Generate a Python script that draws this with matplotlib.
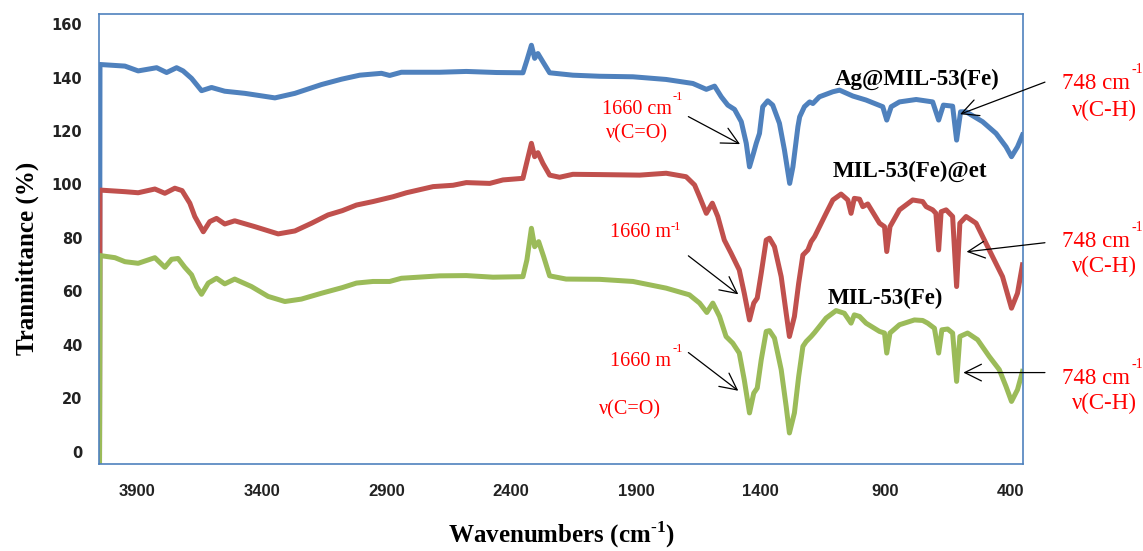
import matplotlib
matplotlib.use("Agg")
import matplotlib.pyplot as plt

# wavenumber (cm-1) / transmittance (%)
blue_x = [4050, 4048, 3948, 3895, 3821, 3781, 3741, 3715, 3681, 3641, 3601, 3548, 3467, 3347,
          3267, 3160, 3080, 3007, 2920, 2887, 2840, 2687, 2580, 2459, 2353, 2337, 2319, 2306,
          2293, 2273, 2246, 2153, 2046, 1912, 1779, 1672, 1618, 1585, 1558, 1532, 1505, 1478,
          1458, 1445, 1429, 1418, 1405, 1392, 1372, 1352, 1325, 1305, 1284, 1271, 1251, 1244,
          1225, 1204, 1191, 1165, 1111, 1084, 1031, 978, 911, 895, 877, 844, 777, 711, 687,
          668, 631, 615, 599, 577, 511, 457, 417, 395, 371, 351]
blue_y = [-10, 144.9, 144.3, 142.5, 143.7, 141.9, 143.7, 142.5, 139.7, 135.1, 136.3, 134.9, 134.1,
          132.4, 134.1, 137.4, 139.4, 140.9, 141.6, 140.8, 142.0, 142.0, 142.3, 141.9, 141.8,
          146.5, 152.1, 147.2, 149.0, 145.9, 141.8, 140.9, 140.5, 140.3, 139.3, 137.8, 135.6,
          136.8, 132.8, 129.7, 128.1, 123.5, 115.4, 106.6, 111.7, 115.4, 119.1, 129.1, 131.3,
          129.7, 122.9, 112.9, 100.4, 106.6, 121.6, 125.3, 129.1, 130.9, 130.3, 132.8, 134.7,
          135.3, 133.1, 131.6, 129.1, 124.1, 129.1, 130.9, 131.8, 130.9, 124.1, 129.7, 129.3,
          116.6, 127.2, 127.2, 123.5, 119.1, 114.1, 110.4, 114.1, 118.5]

red_x = [4050, 4048, 3948, 3895, 3828, 3788, 3748, 3719, 3688, 3668, 3634, 3608, 3581, 3548, 3508,
         3427, 3334, 3267, 3200, 3134, 3077, 3020, 2954, 2874, 2820, 2713, 2633, 2580, 2486,
         2433, 2353, 2337, 2319, 2306, 2293, 2273, 2246, 2206, 2153, 2046, 1885, 1779, 1699,
         1665, 1645, 1618, 1594, 1572, 1546, 1519, 1486, 1466, 1445, 1428, 1414, 1398, 1378,
         1365, 1345, 1318, 1298, 1285, 1265, 1248, 1231, 1211, 1198, 1184, 1138, 1111, 1078,
         1051, 1038, 1025, 1004, 991, 971, 924, 904, 895, 882, 844, 791, 751, 737, 711, 698,
         687, 677, 657, 631, 615, 602, 577, 537, 471, 431, 395, 371, 351]
red_y = [-10, 97.9, 97.3, 96.9, 98.3, 96.7, 98.6, 97.7, 93.0, 88.0, 82.3, 86.1, 87.3, 85.2, 86.4,
         84.2, 81.5, 82.6, 85.5, 88.6, 90.2, 92.3, 93.6, 95.4, 96.9, 99.2, 99.7, 100.7, 100.4,
         101.7, 102.3, 108.5, 115.4, 110.4, 111.9, 107.9, 103.5, 102.7, 103.8, 103.7, 103.5,
         104.2, 102.9, 99.8, 95.4, 89.2, 93.0, 88.0, 79.2, 74.3, 68.0, 59.3, 49.3, 55.6, 57.5,
         66.8, 79.2, 79.9, 76.7, 65.5, 51.8, 43.1, 50.6, 63.0, 73.6, 75.5, 78.6, 80.5, 89.2,
         94.2, 96.4, 94.2, 89.2, 94.8, 94.5, 91.7, 92.7, 85.5, 84.2, 74.9, 84.2, 90.5, 94.2,
         93.6, 91.7, 90.5, 89.2, 75.5, 89.8, 90.5, 88.0, 61.8, 85.5, 88.0, 85.5, 73.0, 65.5,
         53.7, 59.3, 69.9]

green_x = [4050, 4048, 3988, 3948, 3895, 3828, 3788, 3761, 3735, 3708, 3681, 3661, 3641, 3614,
           3581, 3548, 3508, 3441, 3374, 3307, 3241, 3160, 3077, 3020, 2954, 2887, 2840, 2687,
           2580, 2473, 2353, 2337, 2319, 2306, 2290, 2270, 2246, 2180, 2046, 1912, 1779, 1686,
           1645, 1616, 1592, 1565, 1539, 1512, 1486, 1466, 1445, 1428, 1414, 1398, 1378, 1365,
           1345, 1318, 1298, 1285, 1265, 1248, 1231, 1218, 1198, 1184, 1138, 1098, 1065, 1038,
           1025, 1004, 978, 924, 904, 895, 882, 844, 784, 751, 731, 704, 687, 674, 651, 631,
           615, 602, 571, 531, 484, 444, 417, 395, 371, 351]
green_y = [-10, 73.4, 72.6, 71.1, 70.5, 72.6, 69.0, 72.0, 72.3, 69.0, 66.2, 61.8, 58.9, 63.1,
           64.9, 62.8, 64.6, 61.8, 58.1, 56.2, 57.1, 59.3, 61.4, 63.1, 63.7, 63.7, 64.9, 65.8,
           65.9, 65.3, 65.5, 71.8, 83.6, 76.7, 78.6, 73.0, 65.8, 64.6, 64.5, 63.7, 61.2, 58.7,
           55.6, 52.1, 55.6, 50.6, 43.1, 40.6, 36.9, 26.9, 14.5, 21.9, 23.8, 34.4, 45.0, 45.3,
           42.5, 30.7, 16.9, 7.0, 14.5, 28.1, 39.4, 41.2, 43.1, 44.6, 50.0, 52.8, 51.8, 48.1,
           51.2, 50.6, 48.1, 45.0, 44.4, 36.9, 44.4, 47.5, 49.3, 49.1, 48.1, 46.2, 36.9, 45.6,
           45.9, 44.4, 26.3, 43.1, 44.4, 41.9, 35.6, 30.7, 24.4, 18.8, 23.2, 30.0]

x_ticks = [3900, 3400, 2900, 2400, 1900, 1400, 900, 400]
y_ticks = [0, 20, 40, 60, 80, 100, 120, 140, 160]

plt.rcParams['mathtext.fontset'] = 'custom'
plt.rcParams['mathtext.rm'] = 'Liberation Serif'
plt.rcParams['mathtext.bf'] = 'Liberation Serif:bold'

fig = plt.figure(figsize=(11.43, 5.51), dpi=100)
ax = fig.add_axes([0.0866, 0.157, 0.8084, 0.8176])

ax.plot(blue_x, blue_y, color='#4F81BD', lw=3.6, solid_joinstyle='round')
ax.plot(red_x, red_y, color='#C0504D', lw=3.6, solid_joinstyle='round')
ax.plot(green_x, green_y, color='#9BBB59', lw=3.6, solid_joinstyle='round')

ax.set_xlim(4052, 349)
ax.set_ylim(-4.8, 163.8)
ax.set_xticks(x_ticks)
ax.set_yticks(y_ticks)
for s in ax.spines.values():
    s.set_color('#4F81BD')
    s.set_linewidth(1.2)
ax.tick_params(length=0)
ax.tick_params(axis='y', pad=12)
ax.tick_params(axis='x', pad=14)
for t in ax.get_yticklabels():
    t.set_fontfamily('DejaVu Sans')
    t.set_fontweight('bold')
    t.set_fontsize(10.5)
    t.set_color('#222222')
for t in ax.get_xticklabels():
    t.set_fontfamily('Liberation Sans')
    t.set_fontweight('bold')
    t.set_fontsize(12)
    t.set_color('#222222')

serif = 'Liberation Serif'
fig.text(27 / 1143, 1 - 258 / 551, 'Tranmittance (%)', rotation=90, ha='center', va='center',
         family=serif, weight='bold', fontsize=18)
fig.text(561 / 1143, 1 - 535 / 551, 'Wavenumbers (cm$^{\\mathbf{\u20101}}$)', ha='center', va='center',
         family=serif, weight='bold', fontsize=18)

# sample names
ax.text(772, 139.4, 'Ag@MIL-53(Fe)', ha='center', va='center', family=serif, weight='bold', fontsize=16.5)
ax.text(802, 105.1, 'MIL-53(Fe)@et', ha='center', va='center', family=serif, weight='bold', fontsize=16.5)
ax.text(902, 57.4, 'MIL-53(Fe)', ha='center', va='center', family=serif, weight='bold', fontsize=16.5)

red = '#FF0000'
# C=O band labels
ax.text(2036, 127.9, '1660 cm', ha='left', va='center', family=serif, color=red, fontsize=14.5)
ax.text(1752, 132.7, '-1', ha='left', va='center', family=serif, color=red, fontsize=9)
ax.text(1894, 118.8, 'ν(C=O)', ha='center', va='center', family=serif, color=red, fontsize=14.5)
ax.text(2004, 81.9, '1660 m', ha='left', va='center', family=serif, color=red, fontsize=14.5)
ax.text(1760, 84.0, '-1', ha='left', va='center', family=serif, color=red, fontsize=9)
ax.text(2004, 33.9, '1660 m', ha='left', va='center', family=serif, color=red, fontsize=14.5)
ax.text(1752, 38.4, '-1', ha='left', va='center', family=serif, color=red, fontsize=9)
ax.text(1924, 15.5, 'ν(C=O)', ha='center', va='center', family=serif, color=red, fontsize=14.5)

# C-H band labels
for y_main, y_sup, y_nu in [(137.9, 143.2, 127.8), (78.8, 84.0, 69.4), (27.3, 32.7, 18.2)]:
    ax.text(193, y_main, '748 cm', ha='left', va='center', family=serif, color=red, fontsize=16.5)
    ax.text(-84, y_sup, '-1', ha='left', va='center', family=serif, color=red, fontsize=10)
    ax.text(24, y_nu, 'ν(C-H)', ha='center', va='center', family=serif, color=red, fontsize=16.5)

arrow = dict(arrowstyle='->,head_length=0.8,head_width=0.4', color='black', lw=0.9,
             shrinkA=0, shrinkB=0, mutation_scale=15)
for head, tail in [((1483, 115.1), (1690, 125.4)),
                   ((1490, 58.9), (1690, 73.3)),
                   ((1490, 22.8), (1690, 37.1)),
                   ((601, 126.3), (261, 138.3)),
                   ((575, 74.8), (261, 78.2)),
                   ((588, 29.6), (261, 29.6))]:
    ax.annotate('', xy=head, xytext=tail, arrowprops=arrow, annotation_clip=False)

fig.savefig('out.png', dpi=100)
